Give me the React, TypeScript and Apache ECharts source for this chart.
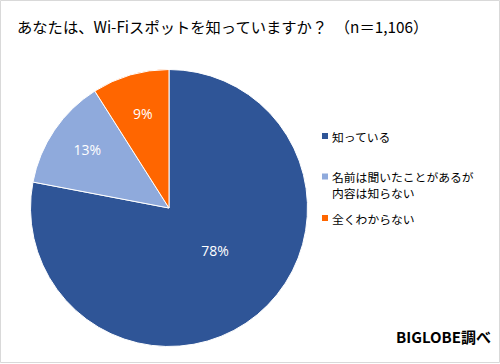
import React, { useEffect, useRef } from "react";
import * as echarts from "echarts";

const titleText = "あなたは、Wi-Fiスポットを知っていますか？　（n＝1,106）";
const categories = ["知っている", "名前は聞いたことがあるが\n内容は知らない", "全くわからない"];
const values = [78, 13, 9];
const colors = ["#2F5597", "#8FAADC", "#FF6600"];
const sourceText = "BIGLOBE調べ";

export default function App() {
  const ref = useRef<HTMLDivElement>(null);
  useEffect(() => {
    document.body.style.margin = "0";
    const chart = echarts.init(ref.current!, null, { renderer: "svg" });
    const labelOffsets = [[0, -13], [-22, -18], [-6, -25]];
    const legendCenters = [136, 176.5, 218];
    const legendLineGap = 16;
    const legendGraphics: any[] = [];
    categories.forEach((c, i) => {
      const cy = legendCenters[i];
      legendGraphics.push({
        type: "rect",
        shape: { x: 322, y: cy - 3, width: 6, height: 6 },
        style: { fill: colors[i] },
        silent: true,
      });
      c.split("\n").forEach((line, j) => {
        legendGraphics.push({
          type: "text",
          x: 332,
          y: cy + j * legendLineGap,
          style: {
            text: line,
            fontFamily: "Noto Sans CJK JP",
            fontSize: 11.8,
            fill: "#000",
            verticalAlign: "middle",
          },
          silent: true,
        });
      });
    });
    chart.setOption({
      animation: false,
      backgroundColor: "#fff",
      title: {
        text: titleText,
        left: 17,
        top: 17,
        padding: 0,
        textStyle: { fontFamily: "Noto Sans CJK JP", fontSize: 15.3, fontWeight: "normal", color: "#000", lineHeight: 18 },
      },
      graphic: [
        {
          type: "rect",
          shape: { x: 0.5, y: 0.5, width: 499, height: 362 },
          style: { fill: "none", stroke: "#D9D9D9", lineWidth: 1 },
          silent: true,
        },
        ...legendGraphics,
        {
          type: "text",
          right: 9,
          top: 329,
          style: { text: sourceText, fontFamily: "Noto Sans CJK JP", fontSize: 15, fontWeight: "bold", fill: "#000" },
        },
      ],
      series: [
        {
          type: "pie",
          center: [169, 208],
          radius: 138.5,
          startAngle: 90,
          clockwise: true,
          label: {
            show: true,
            position: "inside",
            formatter: "{c}%",
            color: "#fff",
            fontFamily: "Open Sans",
            fontSize: 14,
          },
          labelLine: { show: false },
          itemStyle: { borderColor: "#fff", borderWidth: 1 },
          emphasis: { disabled: true },
          data: categories.map((c, i) => ({
            name: c,
            value: values[i],
            itemStyle: { color: colors[i] },
            label: { offset: labelOffsets[i] },
          })),
        },
      ],
    });
    return () => chart.dispose();
  }, []);
  return <div ref={ref} style={{ width: 500, height: 364 }} />;
}
